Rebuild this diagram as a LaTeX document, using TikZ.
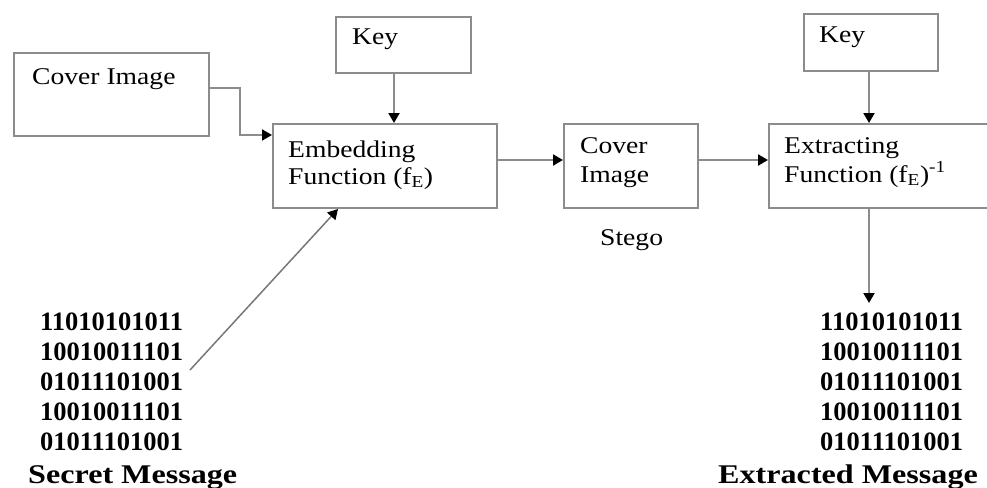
\documentclass[tikz,border=0pt]{standalone}
\usepackage{graphicx}
\usepackage{fontspec}
\setmainfont{Liberation Serif}
\usetikzlibrary{arrows.meta}
\definecolor{linegray}{HTML}{8C8C8C}
\newcommand{\wtx}[1]{\scalebox{1.15}[1]{#1}}
\newcommand{\wbx}[1]{\scalebox{1.19}[1]{#1}}
\tikzset{
  boxnode/.style={draw=linegray, line width=2pt, inner sep=0pt, anchor=north west},
  txt/.style={inner sep=0pt, anchor=base west, font=\fontsize{24}{28}\selectfont},
  bits/.style={inner sep=0pt, anchor=base west, font=\fontsize{26.5}{30}\selectfont\bfseries},
  caption/.style={inner sep=0pt, anchor=base west, font=\fontsize{27}{30}\selectfont\bfseries},
  conn/.style={draw=linegray, line width=2pt, -{Triangle[black,length=10pt,width=11pt]}},
  thinconn/.style={draw=linegray!85!black, line width=1.5pt, -{Triangle[black,length=10pt,width=11pt]}}
}
\begin{document}
\begin{tikzpicture}[x=1pt,y=-1pt]
\useasboundingbox (0,0) rectangle (987,487);
\clip (0,0) rectangle (987,487);
% boxes
\node[boxnode, minimum width=195pt, minimum height=83pt] (cover) at (13,52) {};
\node[boxnode, minimum width=135pt, minimum height=56pt] (key1) at (335,16) {};
\node[boxnode, minimum width=224pt, minimum height=84pt] (embed) at (272,123) {};
\node[boxnode, minimum width=134pt, minimum height=84pt] (cover2) at (563,123) {};
\node[boxnode, minimum width=134pt, minimum height=57pt] (key2) at (803,13) {};
\node[boxnode, minimum width=240pt, minimum height=84pt] (extract) at (768,123) {};
% texts
\node[txt] (covert) at (32,84) {\wtx{Cover Image}};
\node[txt] (key1t) at (352,45) {\wtx{Key}};
\node[txt] (embt1) at (288,157) {\wtx{Embedding}};
\node[txt] (embt2) at (288,184) {\wtx{Function (f\textsubscript{E})}};
\node[txt] (cov2t1) at (580,153) {\wtx{Cover}};
\node[txt] (cov2t2) at (580,182) {\wtx{Image}};
\node[txt] (stego) at (600,245) {\wtx{Stego}};
\node[txt] (key2t) at (819,43) {\wtx{Key}};
\node[txt] (extt1) at (784,153) {\wtx{Extracting}};
\node[txt] (extt2) at (784,182) {\wtx{Function (f\textsubscript{E})\textsuperscript{-1}}};
% bit blocks
\node[bits] (sb1) at (40,330) {11010101011};
\node[bits] (sb2) at (40,360) {10010011101};
\node[bits] (sb3) at (40,390) {01011101001};
\node[bits] (sb4) at (40,420) {10010011101};
\node[bits] (sb5) at (40,450) {01011101001};
\node[caption] (secret) at (28,483) {\wbx{Secret Message}};
\node[bits] (eb1) at (820,330) {11010101011};
\node[bits] (eb2) at (820,360) {10010011101};
\node[bits] (eb3) at (820,390) {01011101001};
\node[bits] (eb4) at (820,420) {10010011101};
\node[bits] (eb5) at (820,450) {01011101001};
\node[caption] (extracted) at (718,483) {\wbx{Extracted Message}};
% connector anchors
\coordinate (sbend) at (190,370);
\coordinate (ebtop) at (869,303);
% connectors
\draw[conn] (cover.east |- 0,88) -- (240,88) |- (embed.west |- 0,135);
\draw[conn] (key1.south -| 394,0) -- (embed.north -| 394,0);
\draw[thinconn] (sbend) -- (embed.south -| 338,0);
\draw[conn] (embed.east |- 0,160) -- (cover2.west |- 0,160);
\draw[conn] (cover2.east |- 0,160) -- (extract.west |- 0,160);
\draw[conn] (key2.south -| 869,0) -- (extract.north -| 869,0);
\draw[conn] (extract.south -| 869,0) -- (ebtop);
\end{tikzpicture}
\end{document}
